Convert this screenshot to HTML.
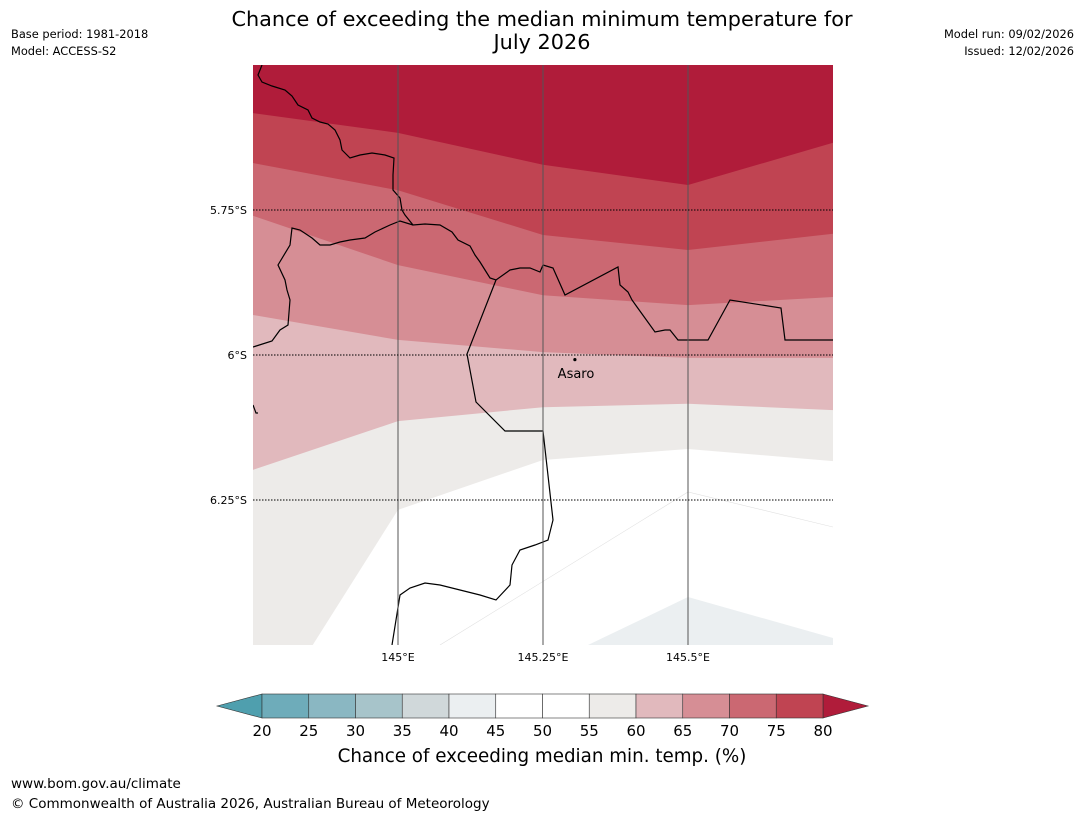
<!DOCTYPE html>
<html><head><meta charset="utf-8"><style>
body{margin:0;background:#fff;width:1085px;height:816px;overflow:hidden;font-family:"Liberation Sans","DejaVu Sans",sans-serif;}
svg text{font-family:"DejaVu Sans","Liberation Sans",sans-serif;}
</style></head><body>
<svg id="chart" width="1085" height="816" viewBox="0 0 1085 816">
<text x="542" y="26" text-anchor="middle" font-size="20.8">Chance of exceeding the median minimum temperature for</text>
<text x="542" y="49" text-anchor="middle" font-size="20.8">July 2026</text>
<text x="11" y="38" font-size="11.4">Base period: 1981-2018</text>
<text x="11" y="55" font-size="11.4">Model: ACCESS-S2</text>
<text x="1074" y="38" font-size="11.4" text-anchor="end">Model run: 09/02/2026</text>
<text x="1074" y="55" font-size="11.4" text-anchor="end">Issued: 12/02/2026</text>
<defs><clipPath id="mapclip"><rect x="253" y="65" width="580" height="580"/></clipPath></defs>
<g id="map" clip-path="url(#mapclip)"></g>
<g id="axes"></g>
<g id="cbar"></g>
<text x="542" y="762" text-anchor="middle" font-size="18.3">Chance of exceeding median min. temp. (%)</text>
<text x="11" y="788" font-size="13.5">www.bom.gov.au/climate</text>
<text x="11" y="808" font-size="13.5">© Commonwealth of Australia 2026, Australian Bureau of Meteorology</text>
</svg>
<script>
const lonTicks=[145,145.25,145.5];
const latTicks=[5.75,6,6.25];
const contourLons=[144.75,145,145.25,145.5,145.75];
const c75=[5.583,5.617,5.672,5.707,5.634];
const c70=[5.669,5.716,5.793,5.819,5.791];
const c65=[5.760,5.845,5.897,5.914,5.900];
const c60=[5.931,5.974,5.995,6.005,6.005];
const c55=[6.198,6.114,6.090,6.084,6.095];
const c50Lons=[144.853,145,145.25,145.5,145.75];
const c50=[6.5,6.267,6.181,6.162,6.183];
const levels=[20,25,30,35,40,45,50,55,60,65,70,75,80];
const colors=["#6eacba","#8ab7c2","#a7c4ca","#d0d8da","#ebeff1","#ffffff","#ffffff","#edebe9","#e1b9bd","#d68e95","#cb6872","#c04452"];
const NS="http://www.w3.org/2000/svg";
const X=lon=>253+(lon-144.75)*580;
const Y=lat=>65+(lat-5.5)*580;
const map=document.getElementById('map');
function poly(parent,pts,fill,stroke,sw,name){const p=document.createElementNS(NS,'polygon');p.setAttribute('points',pts.map(q=>q.join(',')).join(' '));p.setAttribute('fill',fill);if(stroke){p.setAttribute('stroke',stroke);p.setAttribute('stroke-width',sw);}


parent.appendChild(p);return p;}
function line(parent,pts,stroke,sw,dash,name){const p=document.createElementNS(NS,'polyline');p.setAttribute('points',pts.map(q=>q.join(',')).join(' '));p.setAttribute('fill','none');p.setAttribute('stroke',stroke);p.setAttribute('stroke-width',sw);if(dash)p.setAttribute('stroke-dasharray',dash);


parent.appendChild(p);return p;}
const rect=document.createElementNS(NS,'rect');rect.setAttribute('x',253);rect.setAttribute('y',65);rect.setAttribute('width',580);rect.setAttribute('height',580);rect.setAttribute('fill','#edebe9');


map.appendChild(rect);
// white region below 55% lower contour
const lowPts=c50Lons.map((l,j)=>[X(l),Y(c50[j])]);
poly(map,lowPts.concat([[833,645]]),"#ffffff",null,0,'band-50-55');
line(map,[[440,645],[688,492],[833,527]],"#e0e0e0",0.6,null,'contour-45');
poly(map,[[588,645],[688,597],[833,638],[833,645]],"#ebeff1",null,0,'band-40-45');
const bounds=[c55,c60,c65,c70,c75];
const bandColors=["#edebe9","#e1b9bd","#d68e95","#cb6872","#c04452","#b01c3a"];
for(let i=0;i<bounds.length;i++){
  const pts=contourLons.map((l,j)=>[X(l),Y(bounds[i][j])]);
  poly(map,[[253,65]].concat(pts).concat([[833,65]]),bandColors[i+1],null,0,'band-above-'+levels[7+i]);
}
// borders
const b1=[[262,65],[258,75],[262,82],[272,86],[285,90],[292,96],[298,105],[308,110],[312,118],[320,122],[328,124],[335,130],[340,140],[342,150],[350,158],[360,155],[372,153],[385,155],[394,158],[393,175],[393,190],[400,198],[402,210],[405,215],[413,225],[425,224],[440,225],[452,232],[458,240],[470,246],[475,255],[480,262],[485,270],[490,278],[496,280],[510,270],[520,268],[530,268],[540,272],[543,265],[553,268],[565,295],[618,267],[620,285],[628,292],[632,300],[655,332],[665,330],[670,330],[678,340],[708,340],[730,300],[781,308],[785,340],[833,340]];
line(map,b1,"#000",1.2,null,'border-north');
const b2=[[253,347],[272,341],[280,330],[288,325],[290,300],[287,290],[285,280],[278,265],[290,245],[292,228],[300,230],[312,238],[320,245],[330,245],[340,242],[350,240],[365,238],[375,232],[390,225],[400,221],[413,225]];
line(map,b2,"#000",1.2,null,'border-west');
const b3=[[496,280],[467,354],[476,402],[505,431],[543,431],[553,520],[548,540],[535,545],[520,550],[512,565],[510,585],[496,600],[480,595],[460,590],[440,585],[425,583],[410,588],[400,595],[392,645]];
line(map,b3,"#000",1.2,null,'border-south');
line(map,[[253,405],[256,413],[258,413]],"#000",1.2,null,'border-fragment');
// gridlines
const axes=document.getElementById('axes');
lonTicks.forEach((t,i)=>{line(axes,[[X(t),65],[X(t),645]],"#555",1,null,'lon-gridline');
 const tx=document.createElementNS(NS,'text');tx.setAttribute('x',X(t));tx.setAttribute('y',661);tx.setAttribute('font-size','11');tx.setAttribute('text-anchor','middle');tx.textContent=t+'°E';
 
 
 axes.appendChild(tx);});
latTicks.forEach(t=>{line(axes,[[253,Y(t)],[833,Y(t)]],"#000",1,"1.5,1.5",'lat-gridline');
 const tx=document.createElementNS(NS,'text');tx.setAttribute('x',247);tx.setAttribute('y',Y(t)+4);tx.setAttribute('font-size','11');tx.setAttribute('text-anchor','end');tx.textContent=t+'°S';
 
 
 axes.appendChild(tx);});
const dot=document.createElementNS(NS,'circle');dot.setAttribute('cx',X(145.305));dot.setAttribute('cy',Y(6.008));dot.setAttribute('r',1.6);


axes.appendChild(dot);
const lab=document.createElementNS(NS,'text');lab.setAttribute('x',576);lab.setAttribute('y',378);lab.setAttribute('font-size','13');lab.setAttribute('text-anchor','middle');lab.textContent='Asaro';


axes.appendChild(lab);
// colorbar
const cb=document.getElementById('cbar');
const CX=v=>262+(v-20)*(823-262)/60;
poly(cb,[[217,706],[262,694],[262,718]],"#4f9fae","#333",0.6,'colorbar-extend-low');
poly(cb,[[823,694],[868,706],[823,718]],"#b01c3a","#333",0.6,'colorbar-extend-high');
for(let i=0;i<colors.length;i++){const r=document.createElementNS(NS,'rect');r.setAttribute('x',CX(levels[i]));r.setAttribute('y',694);r.setAttribute('width',CX(levels[i+1])-CX(levels[i]));r.setAttribute('height',24);r.setAttribute('fill',colors[i]);r.setAttribute('stroke','#333');r.setAttribute('stroke-width',0.6);
 
 
 cb.appendChild(r);}
levels.forEach(v=>{const t=document.createElementNS(NS,'text');t.setAttribute('x',CX(v));t.setAttribute('y',736);t.setAttribute('font-size','15');t.setAttribute('text-anchor','middle');t.textContent=v;
 
 
 cb.appendChild(t);});
</script>
</body></html>
